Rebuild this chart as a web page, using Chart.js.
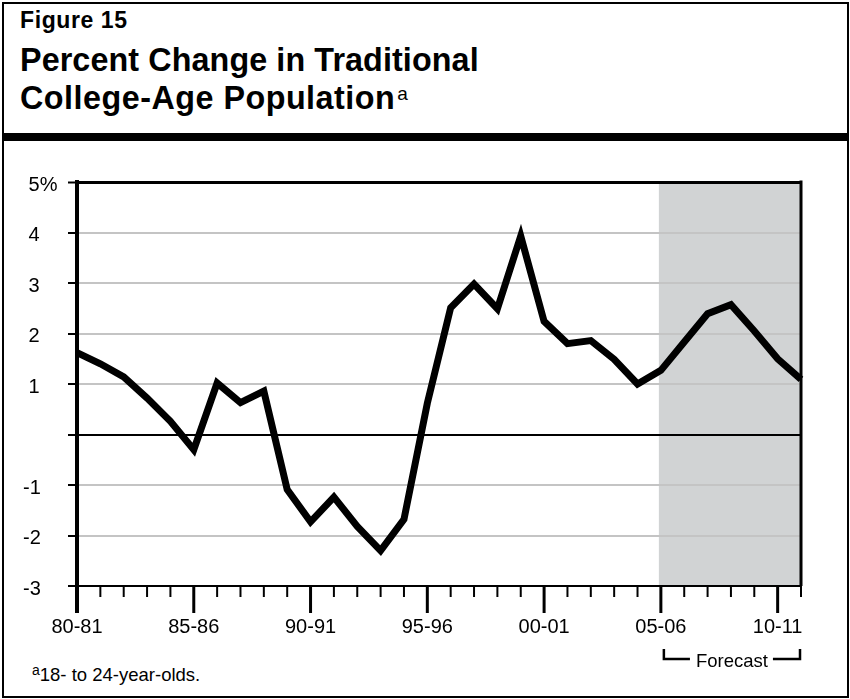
<!DOCTYPE html>
<html>
<head>
<meta charset="utf-8">
<script src="https://cdn.jsdelivr.net/npm/chart.js@4"></script>
<style>
  body { margin: 0; background: #fff; font-family: 'Liberation Sans', Arial, Helvetica, sans-serif; }
  #wrap { position: relative; width: 850px; height: 699px; overflow: hidden; }
  #box { position: absolute; left: 2px; top: 2px; width: 847px; height: 696px; border: 2px solid #000; box-sizing: border-box; }
  #bar { position: absolute; left: 2px; top: 133px; width: 847px; height: 8px; background: #000; }
  #fig { position: absolute; left: 20px; top: 9px; font-size: 23px; font-weight: bold; line-height: 23px; letter-spacing: 0.6px; }
  #title { position: absolute; left: 20px; top: 41px; font-size: 32.3px; font-weight: bold; line-height: 38px; letter-spacing: 0.1px; }
  #title .l2 { letter-spacing: 0.5px; }
  #title sup { font-size: 19px; font-weight: normal; vertical-align: 9px; line-height: 0; letter-spacing: 0; margin-left: 2px; }
  #note { position: absolute; left: 32px; top: 664px; font-size: 18.5px; line-height: 22px; }
  #note sup { font-size: 14px; vertical-align: 6px; line-height: 0; }
  canvas { position: absolute; left: 0; top: 0; }
</style>
</head>
<body>
<div id="wrap">
  <div id="box"></div>
  <div id="bar"></div>
  <div id="fig">Figure 15</div>
  <div id="title">Percent Change in Traditional<br><span class="l2">College-Age Population</span><sup>a</sup></div>
  <div id="note"><sup>a</sup>18- to 24-year-olds.</div>
  <canvas id="myChart" width="850" height="699"></canvas>
</div>
<script>
// school years 1980-81 through 2011-12
var years = ['80-81', '81-82', '82-83', '83-84', '84-85', '85-86', '86-87', '87-88', '88-89', '89-90',
             '90-91', '91-92', '92-93', '93-94', '94-95', '95-96', '96-97', '97-98', '98-99', '99-00',
             '00-01', '01-02', '02-03', '03-04', '04-05', '05-06', '06-07', '07-08', '08-09', '09-10',
             '10-11', '11-12'];
var pctChange = [1.62, 1.40, 1.14, 0.72, 0.26, -0.30, 1.02, 0.63, 0.86, -1.09,
                 -1.73, -1.24, -1.82, -2.30, -1.68, 0.62, 2.51, 2.98, 2.49, 3.93,
                 2.24, 1.80, 1.86, 1.49, 1.00, 1.27, 1.83, 2.39, 2.57, 2.05,
                 1.50, 1.09];
var labeledYears = ['80-81', '85-86', '90-91', '95-96', '00-01', '05-06', '10-11'];
var forecastStart = '05-06';

var FONT = "'Liberation Sans', Arial, Helvetica, sans-serif";

// grey forecast band behind the grid
var shadePlugin = {
    id: 'shade',
    beforeDraw: function(chart) {
        var ctx = chart.ctx, a = chart.chartArea, x = chart.scales.x;
        var x0 = x.getPixelForValue(years.indexOf(forecastStart)) - 2;
        ctx.save();
        ctx.fillStyle = '#d1d3d4';
        ctx.fillRect(x0, a.top, a.right - x0, a.bottom - a.top);
        ctx.restore();
    },
    afterDraw: function(chart) {
        var ctx = chart.ctx, a = chart.chartArea, x = chart.scales.x;
        ctx.save();
        ctx.strokeStyle = '#000';
        // right frame
        ctx.lineWidth = 3;
        ctx.beginPath();
        ctx.moveTo(a.right, a.top - 1.5);
        ctx.lineTo(a.right, a.bottom);
        ctx.stroke();
        // x tick marks, long for labeled years
        for (var i = 0; i < years.length; i++) {
            var px = x.getPixelForValue(i);
            var major = labeledYears.indexOf(years[i]) >= 0;
            ctx.lineWidth = major ? 3 : 2;
            if (i === 0) ctx.lineWidth = 4;
            ctx.beginPath();
            ctx.moveTo(px, a.bottom);
            ctx.lineTo(px, a.bottom + (major ? 27 : 11));
            ctx.stroke();
        }
        // forecast bracket
        var left = x.getPixelForValue(years.indexOf(forecastStart)) + 3;
        var right = x.getPixelForValue(years.length - 1) - 1;
        var mid = (left + right) / 2;
        var by = 659;
        ctx.lineWidth = 2.5;
        ctx.beginPath();
        ctx.moveTo(left, 649); ctx.lineTo(left, by); ctx.lineTo(mid - 42, by);
        ctx.moveTo(mid + 41, by); ctx.lineTo(right, by); ctx.lineTo(right, 649);
        ctx.stroke();
        ctx.fillStyle = '#000';
        ctx.font = '18.5px ' + FONT;
        ctx.textAlign = 'center';
        ctx.textBaseline = 'alphabetic';
        ctx.fillText('Forecast', mid, 667);
        ctx.restore();
    }
};

var ctx = document.getElementById('myChart').getContext('2d');
var myChart = new Chart(ctx, {
    type: 'line',
    data: {
        labels: years,
        datasets: [{
            label: 'Percent change',
            data: pctChange,
            borderColor: '#000',
            borderWidth: 7,
            borderJoinStyle: 'miter',
            pointRadius: 0,
            tension: 0,
            fill: false
        }]
    },
    options: {
        responsive: false,
        animation: false,
        devicePixelRatio: 1,
        layout: { padding: { left: 23, top: 182, right: 49, bottom: 0 } },
        plugins: { legend: { display: false }, tooltip: { enabled: false } },
        scales: {
            x: {
                type: 'category',
                offset: false,
                afterFit: function(s) { s.height = 113; },
                grid: { drawOnChartArea: false, drawTicks: false },
                border: { color: '#000', width: 2 },
                ticks: {
                    autoSkip: false,
                    maxRotation: 0,
                    padding: 29,
                    color: '#000',
                    font: { family: FONT, size: 20 },
                    callback: function(v, i) {
                        return labeledYears.indexOf(years[i]) >= 0 ? years[i] : '';
                    }
                }
            },
            y: {
                min: -3,
                max: 5,
                afterFit: function(s) { s.width = 54; },
                border: { color: '#000', width: 4 },
                grid: {
                    color: function(c) {
                        var v = c.tick.value;
                        return (v === 0 || v === 5) ? '#000' : '#c4c4c4';
                    },
                    lineWidth: function(c) {
                        return c.tick.value === 5 ? 3 : 2;
                    },
                    tickColor: '#000',
                    tickWidth: 2,
                    tickLength: 9
                },
                ticks: {
                    stepSize: 1,
                    crossAlign: 'far',
                    labelOffset: 3,
                    color: '#000',
                    font: { family: FONT, size: 20 },
                    callback: function(v) {
                        if (v === 0) return '';
                        // leading space keeps digits lined up with the negatives
                        var s = v === 5 ? '5%' : String(v);
                        return v > 0 ? ' ' + s : s;
                    }
                }
            }
        }
    },
    plugins: [shadePlugin]
});
</script>
</body>
</html>
